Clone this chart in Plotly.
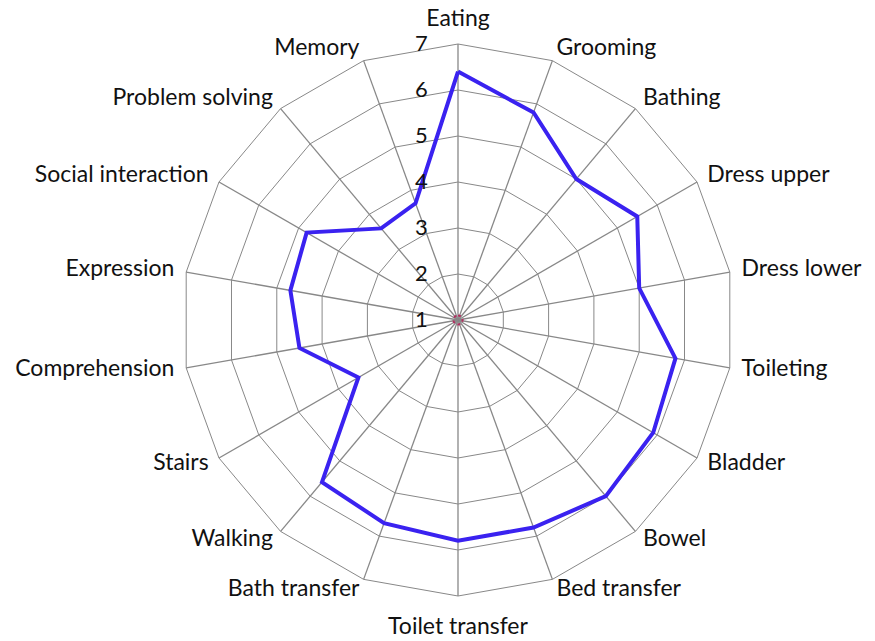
import plotly.graph_objects as go

categories = ["Eating", "Grooming", "Bathing", "Dress upper", "Dress lower", "Toileting",
              "Bladder", "Bowel", "Bed transfer", "Toilet transfer", "Bath transfer",
              "Walking", "Stairs", "Comprehension", "Expression", "Social interaction",
              "Problem solving", "Memory"]
scores = [6.4, 5.8, 5.0, 5.5, 5.0, 5.8, 5.9, 6.0, 5.8, 5.8, 5.7, 5.6, 3.5, 4.5, 4.7, 4.8, 3.6, 3.7]
baseline = [1.1] * len(categories)
tick_vals = [1, 2, 3, 4, 5, 6, 7]

FONT = "Lato"
R_MIN, R_MAX = 1, 7
LABEL_R = R_MAX + 0.26   # label ring just outside the outer grid
AXIS_MAX = R_MAX + 0.28  # extra room so the labels stay inside the polar range
GRID = "#888888"

n = len(categories)
label_pos = []
label_pad = []
for i in range(n):
    if i == 0:
        label_pos.append("top center")
        label_pad.append(0)
    elif i == n // 2:
        label_pos.append("bottom center")
        label_pad.append(12)
    elif i < n // 2:
        label_pos.append("middle right")
        label_pad.append(0)
    else:
        label_pos.append("middle left")
        label_pad.append(0)

# spokes from centre to the outer ring
spoke_r, spoke_t = [], []
for c in categories:
    spoke_r += [R_MIN, R_MAX, None]
    spoke_t += [c, c, None]

# pixel geometry: outer ring (value 7) radius 276 px, centre (458, 320)
ring_px = 276
half = ring_px * (AXIS_MAX - R_MIN) / (R_MAX - R_MIN)
cx, cy, W, H = 458, 320, 875, 641

fig = go.Figure()
fig.add_trace(go.Scatterpolar(
    r=spoke_r, theta=spoke_t, mode="lines",
    line=dict(color=GRID, width=1.3), connectgaps=False,
    showlegend=False, hoverinfo="skip"))
fig.add_trace(go.Scatterpolar(
    r=baseline + [baseline[0]], theta=categories + [categories[0]],
    mode="lines", line=dict(color="#b03060", width=2, dash="dot"),
    showlegend=False, hoverinfo="skip"))
fig.add_trace(go.Scatterpolar(
    r=scores + [scores[0]], theta=categories + [categories[0]],
    mode="lines", line=dict(color="#3a22f0", width=4),
    showlegend=False))
fig.add_trace(go.Scatterpolar(
    r=[LABEL_R] * n, theta=categories, mode="markers+text", text=categories,
    textposition=label_pos, cliponaxis=False,
    marker=dict(size=label_pad, opacity=0),
    textfont=dict(family=FONT, size=23, color="#111111"),
    showlegend=False, hoverinfo="skip"))

fig.update_layout(
    width=W, height=H,
    margin=dict(l=0, r=0, t=0, b=0),
    paper_bgcolor="white",
    font=dict(family=FONT, size=23, color="#111111"),
    polar=dict(
        domain=dict(x=[(cx - half) / W, (cx + half) / W],
                    y=[1 - (cy + half) / H, 1 - (cy - half) / H]),
        bgcolor="white",
        gridshape="linear",
        radialaxis=dict(
            range=[R_MIN, AXIS_MAX], tickvals=tick_vals, angle=90, showline=False,
            gridcolor=GRID, gridwidth=1.4,
            ticks="outside", ticklen=22, tickcolor="rgba(0,0,0,0)",
            tickangle=90,
            tickfont=dict(family=FONT, size=22, color="#111111"),
            side="counterclockwise",
        ),
        angularaxis=dict(
            rotation=90, direction="clockwise",
            showgrid=False, showline=False,
            ticks="", showticklabels=False,
        ),
    ),
)

fig.write_html("out.html", config={"displayModeBar": False},
               post_script="document.body.style.margin='0';")
